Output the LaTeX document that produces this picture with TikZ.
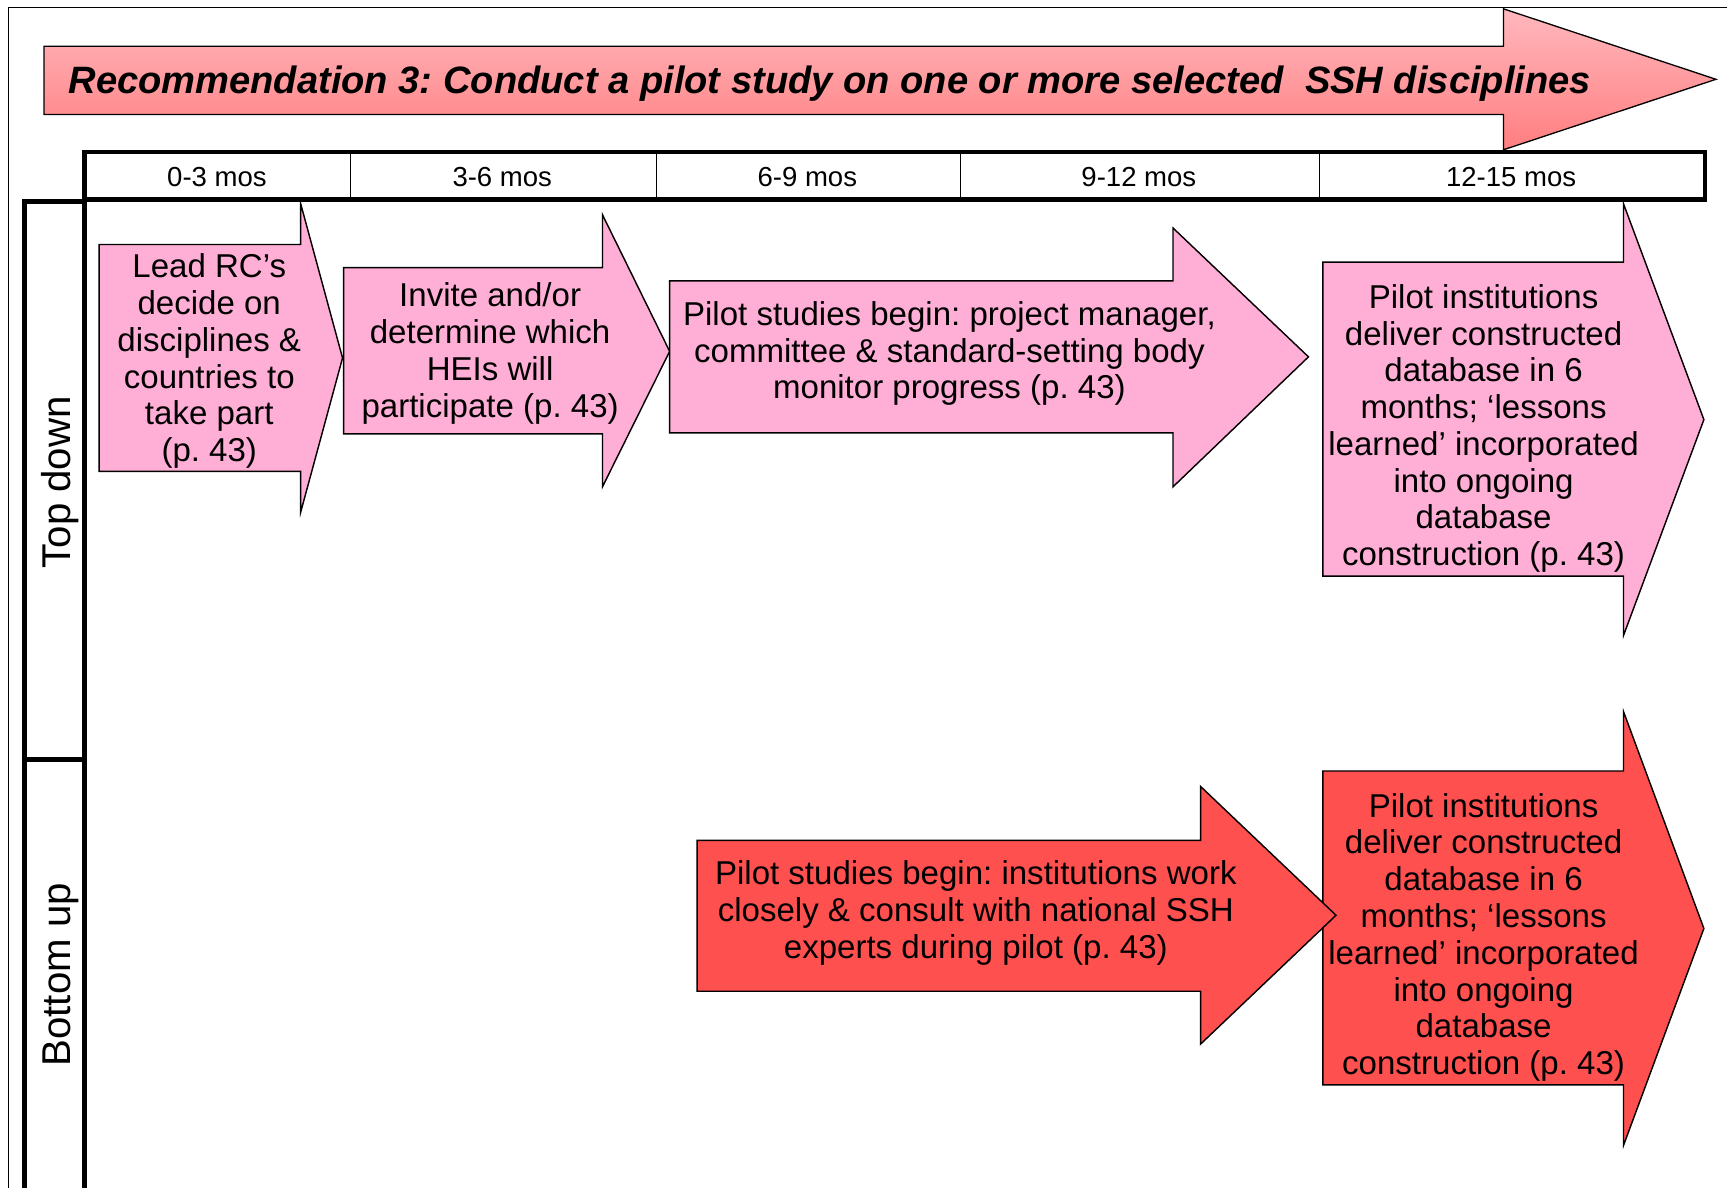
\documentclass[tikz,border=0pt]{standalone}
\usepackage{fontspec}
\setmainfont{Liberation Sans}
\definecolor{pinkfill}{RGB}{255,174,214}
\definecolor{redfill}{RGB}{255,80,80}
\definecolor{titletop}{RGB}{255,184,190}
\definecolor{titlebot}{RGB}{255,126,128}
\frenchspacing
\begin{document}
\begin{tikzpicture}[x=1pt,y=-1pt,
  thinline/.style={line width=1.2pt},
  thickframe/.style={line width=4.5pt},
  arrowshape/.style={draw=black, line width=1.3pt, line join=miter},
  pinkarrow/.style={arrowshape, fill=pinkfill},
  redarrow/.style={arrowshape, fill=redfill},
  bodytext/.style={align=center, font=\fontsize{30}{33.4}\selectfont, inner sep=0pt},
  hdr/.style={font=\fontsize{25}{30}\selectfont, inner sep=0pt},
  lanelabel/.style={font=\fontsize{36.5}{42}\selectfont, rotate=90, inner sep=0pt}]
\useasboundingbox (0,0) rectangle (1568,1078);
\fill[white] (0,0) rectangle (1568,1078);
% outer frame
\draw[thinline] (8,1095) -- (8,7) -- (1590,7);
% title arrow
\path[draw=black, line width=1.2pt, top color=titletop, bottom color=titlebot]
  (40,42) -- (1365,42) -- (1365,8) -- (1558,72) -- (1365,136) -- (1365,104) -- (40,104) -- cycle;
\node[anchor=base west, inner sep=0pt, font=\fontsize{34.6}{40}\selectfont\bfseries\itshape] (title) at (62,85)
  {Recommendation 3: Conduct a pilot study on one or more selected\ \ SSH disciplines};
% header row
\foreach \x in {318,596,872,1198} \draw[thinline] (\x,138) -- (\x,181);
\draw[thickframe] (77,138) rectangle (1548,181);
\node[hdr] (h1) at (197,161) {0-3 mos};
\node[hdr] (h2) at (456,161) {3-6 mos};
\node[hdr] (h3) at (733,161) {6-9 mos};
\node[hdr] (h4) at (1034,161) {9-12 mos};
\node[hdr] (h5) at (1372,161) {12-15 mos};
% lane column
\draw[thickframe] (22,1095) -- (22,183) -- (77,183);
\draw[thickframe] (77,181) -- (77,1095);
\draw[thickframe] (22,690) -- (77,690);
\node[lanelabel] (td) at (55,438) {Top down};
\node[lanelabel] (bu) at (55,885) {Bottom up};
% top-down arrows
\path[pinkarrow] (90,222) -- (273,222) -- (273,185) -- (311,325) -- (273,465) -- (273,428) -- (90,428) -- cycle;
\node[bodytext] (t1) at (190,328) {Lead RC’s\\decide on\\disciplines \&\\countries to\\take part\\(p. 43)};
\path[pinkarrow] (312,243) -- (547,243) -- (547,195) -- (608,319) -- (547,442) -- (547,394) -- (312,394) -- cycle;
\node[bodytext] (t2) at (445,321) {Invite and/or\\determine which\\HEIs will\\participate (p. 43)};
\path[pinkarrow] (608,255) -- (1065,255) -- (1065,207) -- (1188,324) -- (1065,442) -- (1065,393) -- (608,393) -- cycle;
\node[bodytext] (t3) at (862,321) {Pilot studies begin: project manager,\\committee \& standard-setting body\\monitor progress (p. 43)};
\path[pinkarrow] (1201,238) -- (1474,238) -- (1474,185) -- (1547,381) -- (1474,577) -- (1474,523) -- (1201,523) -- cycle;
\node[bodytext] (t4) at (1347,389) {Pilot institutions\\deliver constructed\\database in 6\\months; ‘lessons\\learned’ incorporated\\into ongoing\\database\\construction (p. 43)};
% bottom-up arrows
\path[redarrow] (1201,700) -- (1474,700) -- (1474,646) -- (1547,843) -- (1474,1040) -- (1474,985) -- (1201,985) -- cycle;
\node[bodytext] (t6) at (1347,851) {Pilot institutions\\deliver constructed\\database in 6\\months; ‘lessons\\learned’ incorporated\\into ongoing\\database\\construction (p. 43)};
\path[redarrow] (633,763) -- (1090,763) -- (1090,714) -- (1213,831) -- (1090,948) -- (1090,900) -- (633,900) -- cycle;
\node[bodytext] (t5) at (886,829) {Pilot studies begin: institutions work\\closely \& consult with national SSH\\experts during pilot (p. 43)};
\end{tikzpicture}
\end{document}
